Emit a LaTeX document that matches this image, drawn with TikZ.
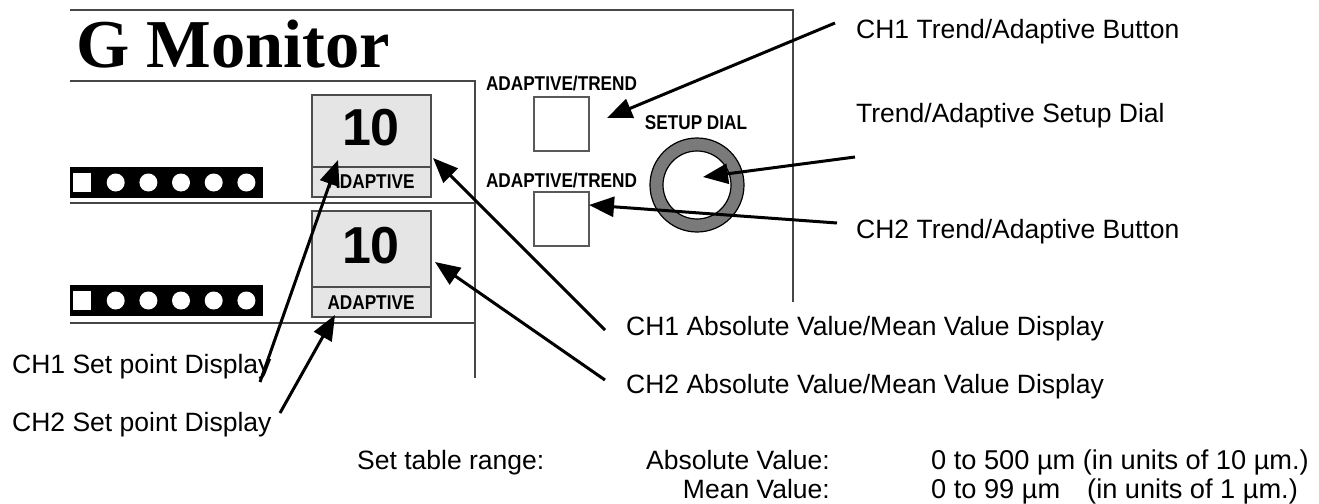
\documentclass[tikz,border=0pt]{standalone}
\usepackage{fontspec}
\setmainfont{Liberation Sans}
\newfontfamily\titlefont{Liberation Serif}
\newfontfamily\narrowbold[FakeStretch=0.86]{Liberation Sans Bold}
\usetikzlibrary{arrows.meta}
\begin{document}
\begin{tikzpicture}[x=1pt,y=-1pt,
  frame/.style={draw=black!72, line width=1.3pt},
  lbl/.style={inner sep=0pt, anchor=base west, font=\fontsize{26.5}{30}\selectfont},
  lble/.style={lbl, anchor=base east},
  vlbl/.style={lbl, font=\fontsize{27.2}{30}\selectfont},
  ptr/.style={line width=3pt, -{Triangle[length=25pt,width=20pt]}},
  panel/.style={inner sep=0pt, font=\narrowbold\fontsize{20}{22}\selectfont},
  valfont/.style={inner sep=0pt, font=\bfseries\fontsize{52}{52}\selectfont},
  dispbox/.style={draw=black!70, fill=black!10, line width=1.2pt},
  btnbox/.style={draw=black!65, line width=1.1pt},
]
\useasboundingbox (0,0) rectangle (1319,503);
% frame lines
\draw[frame] (70,10) -- (793,10) -- (793,302);
\draw[frame] (70,81) -- (475,81) -- (475,378);
\draw[frame] (70,203) -- (475,203);
\draw[frame] (70,323) -- (475,323);
% title
\node[anchor=base west, inner sep=0pt, font=\titlefont\bfseries\fontsize{68.5}{68.5}\selectfont] (title) at (76,67) {G Monitor};
% LED bars
\foreach \yc in {182.5, 300.5} {
  \fill (70,{\yc-15.5}) rectangle (263,{\yc+15.5});
  \fill[white] (73,{\yc-9.5}) rectangle (91,{\yc+9.5});
  \foreach \xc in {115.7,148.4,181,213.7,246.4} \fill[white] (\xc,\yc) circle[radius=9];
}
% displays
\draw[dispbox] (312,95) rectangle (431,197);
\draw[draw=black!70, line width=1.2pt] (312,167) -- (431,167);
\draw[dispbox] (312,211) rectangle (431,317);
\draw[draw=black!70, line width=1.2pt] (312,287) -- (431,287);
\node[valfont] (val1) at (371,127.5) {10};
\node[valfont] (val2) at (371,246) {10};
\node[panel] (mode1) at (371,182) {ADAPTIVE};
\node[panel] (mode2) at (371,302.5) {ADAPTIVE};
% buttons
\draw[btnbox] (534,97) rectangle (589,151);
\draw[btnbox] (534,192) rectangle (589,246);
\node[panel] (btnlbl1) at (561.5,83.5) {ADAPTIVE/TREND};
\node[panel] (btnlbl2) at (561.5,180) {ADAPTIVE/TREND};
\node[panel] (diallbl) at (696,123) {SETUP DIAL};
% dial
\draw[fill=black!52, even odd rule, line width=1.2pt] (697,185) circle[radius=47] (697,185) circle[radius=34];
% labels
\node[lbl] (l1) at (856,39) {CH1 Trend/Adaptive Button};
\node[lbl] (l2) at (856,122.5) {Trend/Adaptive Setup Dial};
\node[lbl] (l3) at (856,238) {CH2 Trend/Adaptive Button};
\node[lbl] (l4) at (626,335) {CH1 Absolute Value/Mean Value Display};
\node[lbl] (l5) at (626,393) {CH2 Absolute Value/Mean Value Display};
\node[lbl] (l6) at (12,373) {CH1 Set point Display};
\node[lbl] (l7) at (12,431) {CH2 Set point Display};
\node[lbl] (r0) at (357,469) {Set table range:};
\node[lble] (r1) at (830,469) {Absolute Value:};
\node[lble] (r2) at (830,498) {Mean Value:};
\node[vlbl] (r3) at (931,469) {0 to 500 µm (in units of 10 µm.)};
\node[vlbl] (r4) at (931,498) {0 to 99 µm};
\node[vlbl] (r5) at (1087,498) {(in units of 1 µm.)};
% arrow coordinates
\coordinate (a1s) at (835,23);  \coordinate (a1t) at (607,118);
\coordinate (a2s) at (855,157); \coordinate (a2t) at (703,177);
\coordinate (a3s) at (837,223); \coordinate (a3t) at (589,205);
\coordinate (a4s) at (605,330); \coordinate (a4t) at (433,158);
\coordinate (a5s) at (605,380); \coordinate (a5t) at (435,262);
\coordinate (a6s) at (260,382); \coordinate (a6t) at (338,160);
\coordinate (a7s) at (280,413); \coordinate (a7t) at (335,315);
\draw[ptr] (a1s) -- (a1t);
\draw[ptr] (a2s) -- (a2t);
\draw[ptr] (a3s) -- (a3t);
\draw[ptr] (a4s) -- (a4t);
\draw[ptr] (a5s) -- (a5t);
\draw[ptr] (a6s) -- (a6t);
\draw[ptr] (a7s) -- (a7t);
\end{tikzpicture}
\end{document}
